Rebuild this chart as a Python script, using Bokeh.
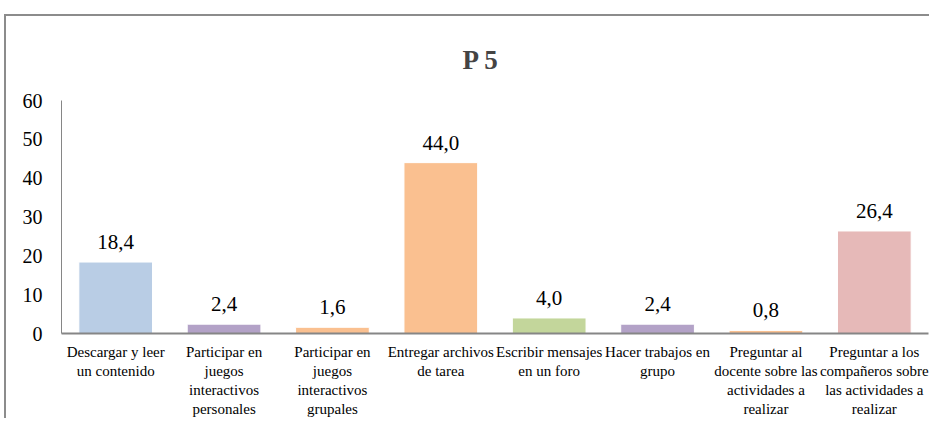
from bokeh.plotting import figure
from bokeh.models import Range1d, FixedTicker, ColumnDataSource
from bokeh.core.properties import value
from bokeh.embed import file_html
from bokeh.resources import INLINE

categories = [
    "Descargar y leer\nun contenido",
    "Participar en\njuegos\ninteractivos\npersonales",
    "Participar en\njuegos\ninteractivos\ngrupales",
    "Entregar archivos\nde tarea",
    "Escribir mensajes\nen un foro",
    "Hacer trabajos en\ngrupo",
    "Preguntar al\ndocente sobre las\nactividades a\nrealizar",
    "Preguntar a los\ncompañeros sobre\nlas actividades a\nrealizar",
]
values = [18.4, 2.4, 1.6, 44.0, 4.0, 2.4, 0.8, 26.4]
colors = ["#B9CDE5", "#B3A2C7", "#FAC090", "#FAC090", "#C3D69B", "#B3A2C7", "#FAC090", "#E6B9B8"]
y_ticks = [0, 10, 20, 30, 40, 50, 60]
title_text = "P 5"

FONT = "Liberation Serif"
W, H = 925, 404

xs = list(range(1, len(values) + 1))
labels = [f"{v:.1f}".replace(".", ",") for v in values]
src = ColumnDataSource(dict(x=xs, top=values, color=colors, label=labels))

p = figure(width=W, height=H, output_backend="svg", toolbar_location=None,
           x_range=Range1d(0.5, len(values) + 0.5), y_range=Range1d(0, max(y_ticks)),
           min_border_left=55, min_border_right=3, min_border_top=84, min_border_bottom=70,
           styles={"margin-left": "4px", "margin-top": "14px",
                   "border-top": "2px solid #8C8C8C", "border-left": "2px solid #8C8C8C"})

p.title.text = title_text
p.title.text_font = FONT
p.title.text_font_size = "27px"
p.title.text_font_style = "bold"
p.title.align = "left"
p.title.offset = 401
p.title.standoff = 52

p.vbar(x="x", top="top", width=0.68, bottom=0, fill_color="color", line_color="white",
       line_width=1, source=src)
p.text(x="x", y="top", text="label", source=src, text_align="center", text_baseline="bottom",
       y_offset=-13, text_font=value(FONT), text_font_size="21px", text_color="black")

p.xgrid.visible = False
p.ygrid.visible = False
p.outline_line_color = None

ya = p.yaxis[0]
ya.ticker = FixedTicker(ticks=y_ticks)
ya.axis_line_color = "#868686"
ya.major_tick_line_color = None
ya.minor_tick_line_color = None
ya.major_label_text_font = FONT
ya.major_label_text_font_size = "20px"
ya.major_label_text_color = "black"
ya.major_label_standoff = 13

xa = p.xaxis[0]
xa.ticker = FixedTicker(ticks=xs)
xa.major_label_overrides = {x: c for x, c in zip(xs, categories)}
xa.axis_line_color = "#868686"
xa.axis_line_width = 2
xa.major_tick_line_color = None
xa.minor_tick_line_color = None
xa.major_label_text_font = FONT
xa.major_label_text_font_size = "15px"
xa.major_label_text_color = "black"
xa.major_label_standoff = 4

open("out.html", "w").write(file_html(p, INLINE))
